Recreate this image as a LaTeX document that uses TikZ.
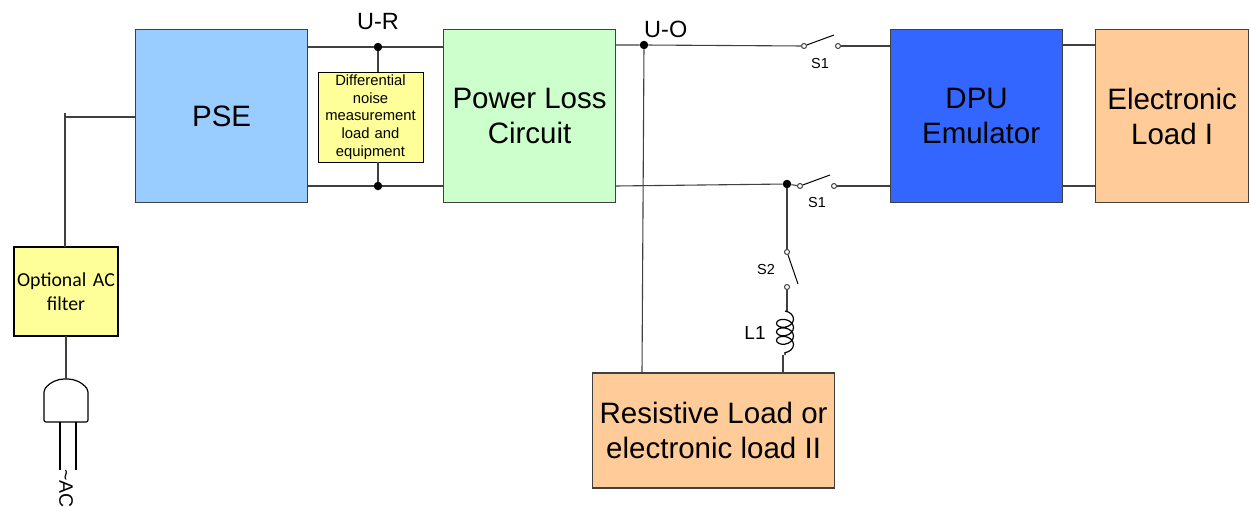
\documentclass[tikz,border=0pt]{standalone}
\usepackage{fontspec}
\setmainfont{Liberation Sans}
\newfontfamily\calibrifont{Carlito}
\usepackage{tikz}
\usetikzlibrary{positioning, decorations.pathmorphing}

\definecolor{pseblue}{HTML}{99CCFF}
\definecolor{lossgreen}{HTML}{CCFFCC}
\definecolor{dpublue}{HTML}{3366FF}
\definecolor{loadorange}{HTML}{FFCC99}
\definecolor{noteyellow}{HTML}{FFFF99}
\definecolor{wiregray}{HTML}{404040}

\begin{document}
\begin{tikzpicture}[
  x=1pt, y=-1pt,
  box/.style={draw=wiregray, line width=1.2pt, minimum width=172pt,
              minimum height=173pt, inner sep=0pt, outer sep=0pt,
              font=\fontsize{29.5}{35}\selectfont, align=center},
  sbox/.style={draw=black, line width=1pt, fill=noteyellow, inner sep=0pt,
               outer sep=0pt, align=center},
  wire/.style={line width=1.1pt, color=wiregray},
  dot/.style={circle, fill=black, inner sep=0pt, minimum size=8.5pt},
  contact/.style={circle, draw=wiregray, fill=white, line width=1pt,
                  inner sep=0pt, minimum size=5pt},
  lbl/.style={inner sep=0pt, font=\fontsize{14.5}{17}\selectfont},
  big/.style={inner sep=0pt, font=\fontsize{23.5}{27}\selectfont}
]
\useasboundingbox (0,0) rectangle (1250,506);

% main row
\node[box, fill=pseblue, anchor=north west] (pse) at (135.6,29.6) {PSE};
\node[box, fill=lossgreen, right=136pt of pse] (loss) {Power Loss\\Circuit};
\node[box, fill=dpublue, right=275pt of loss] (dpu) {DPU\\\hspace*{9pt}Emulator};
\node[box, fill=loadorange, right=33pt of dpu, minimum width=153pt] (eload) {Electronic\\Load I};

% noise measurement
\node[sbox, minimum width=105pt, minimum height=90pt, text width=105pt,
      font=\fontsize{14.8}{17.6}\selectfont, anchor=north west] (noise) at (318,72)
      {Differential\\noise\\measurement\\load and\\equipment};
\node[dot] (urtop) at (378,47) {};
\node[dot] (urbot) at (378,186) {};
\node[big, above=13pt of urtop] (ur) {U-R};
\draw[wire] (pse.east |- urtop) -- (urtop) -- (loss.west |- urtop);
\draw[wire] (pse.east |- urbot) -- (urbot) -- (loss.west |- urbot);
\draw[wire] (urtop) -- (urtop |- noise.north);
\draw[wire] (urbot) -- (urbot |- noise.south);

% upper switch
\node[dot] (uo) at (644,45) {};
\node[big, anchor=west] (uolabel) at (644,29) {U-O};
\node[contact] (sa1) at (804,46) {};
\node[contact] (sa2) at (838,46) {};
\coordinate (sa3) at (834,35);
\node[lbl] (sa) at (820,64) {S1};
\draw[wire] (loss.east |- uo) -- (uo) -- (sa1);
\draw[wire] (sa2) -- (dpu.west |- sa2);
\draw[line width=1pt] (sa1) -- (sa3);

% lower switch
\node[dot] (ns) at (787,184) {};
\node[contact] (sb1) at (800,186) {};
\node[contact] (sb2) at (834,186) {};
\coordinate (sb3) at (830,175);
\node[lbl] (sb) at (817,203) {S1};
\draw[wire] (loss.east |- sb1) -- (ns) -- (sb1);
\draw[wire] (sb2) -- (dpu.west |- sb2);
\draw[line width=1pt] (sb1) -- (sb3);

% dpu to load
\draw[wire] (dpu.east |- uo) -- (eload.west |- uo);
\draw[wire] (dpu.east |- sb1) -- (eload.west |- sb1);

% s2 and coil
\node[contact] (sc1) at (787,252) {};
\node[contact] (sc2) at (787,287) {};
\coordinate (sc3) at (798,284);
\node[lbl] (sc) at (766,270) {S2};
\draw[wire] (ns) -- (sc1);
\draw[line width=1pt] (sc1) -- (sc3);
\coordinate (coiltop) at (785,311);
\coordinate (coilbot) at (785,355);
\coordinate (coilfoot) at (783,355);
\draw[wire] (sc2) -- (sc2 |- coiltop);
\draw[line width=1.2pt, decorate,
      decoration={coil, aspect=0.7, segment length=8.5pt, amplitude=8.5pt}]
      (coiltop) -- (coilbot);
\node[inner sep=0pt, font=\fontsize{19}{23}\selectfont] (l1) at (755,333) {L1};

% loads
\node[box, fill=loadorange, minimum width=242pt, minimum height=115pt,
      anchor=north west] (rload) at (592.6,373)
      {Resistive Load or\\electronic load II};
\coordinate (uofoot) at (642,373);
\draw[wire] (coilfoot) -- (coilfoot |- rload.north);
\draw[wire] (uo) -- (uofoot);

% ac side
\node[sbox, line width=1.3pt, minimum width=104pt, minimum height=89pt, text width=104pt,
      font=\calibrifont\fontsize{19.8}{24}\selectfont, anchor=north west] (filter) at (14,247)
      {Optional AC\\filter};
\coordinate (tap) at (65,117);
\coordinate (tapstub) at (65,113);
\draw[wire] (pse.west |- tap) -- (tap) -- (filter.north -| tap);
\draw[wire] (tapstub) -- (tap);
\coordinate (plug) at (66,379);
\path[draw=black, line width=1.2pt, fill=white, rounded corners=2pt]
  (44,422) -- (44,390) .. controls (50,382) and (58,379) .. (plug)
  .. controls (74,379) and (82,382) .. (88,390) -- (88,422) -- cycle;
\draw[wire] (filter.south) -- (plug);
\draw[line width=1.2pt] (60,422) -- (60,470);
\draw[line width=1.2pt] (76,422) -- (76,470);
\node[rotate=-90, inner sep=0pt, anchor=west, font=\fontsize{19.5}{23}\selectfont] (ac) at (66,469) {\textasciitilde AC};
\end{tikzpicture}
\end{document}
